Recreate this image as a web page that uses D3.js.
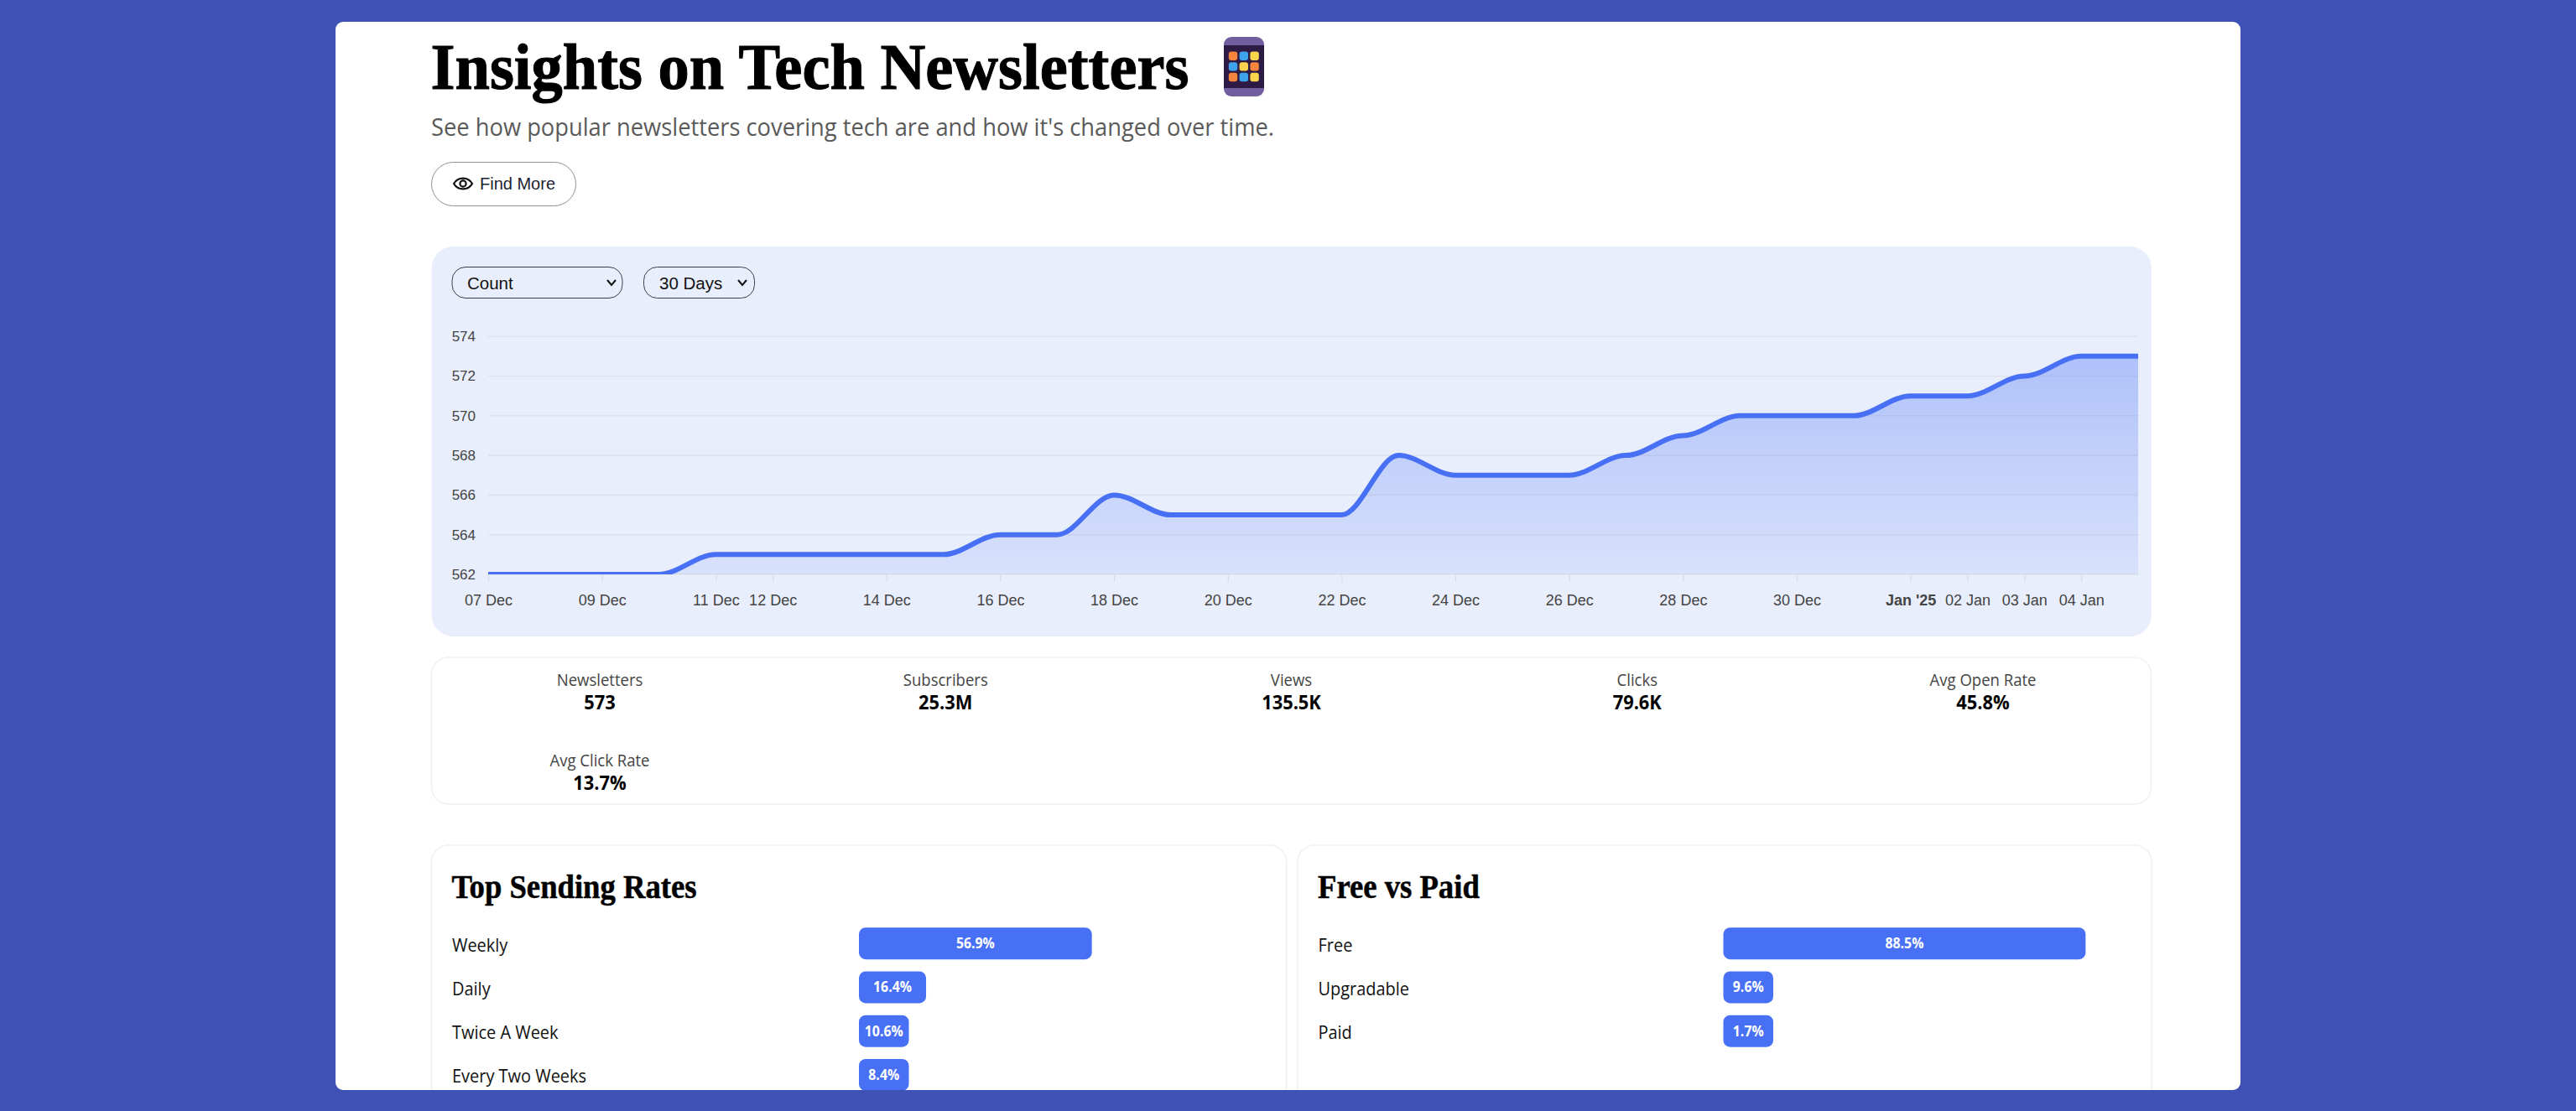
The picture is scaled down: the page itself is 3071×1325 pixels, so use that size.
<!DOCTYPE html>
<html>
<head>
<meta charset="utf-8">
<title>Insights on Tech Newsletters</title>
<script src="https://cdn.jsdelivr.net/npm/d3@7"></script>
<style>
  html, body { margin: 0; padding: 0; background: #3f51b5; overflow: hidden; }
  svg { display: block; }
  .serif { font-family: "Liberation Serif", serif; font-weight: 700; fill: #000; stroke: #000; }
  .ui { font-family: "Open Sans", "Noto Sans", sans-serif; }
  .arial { font-family: "Liberation Sans", Arial, sans-serif; }
</style>
</head>
<body>
<svg id="page" width="3071" height="1325"></svg>
<script>
// daily newsletter count, 07 Dec -> 05 Jan
const startDate = new Date(2024, 11, 7);
const counts = [562, 562, 562, 562, 563, 563, 563, 563, 563, 564, 564, 566, 565, 565, 565, 565,
  568, 567, 567, 567, 568, 569, 570, 570, 570, 571, 571, 572, 573, 573];
const yTicks = [562, 564, 566, 568, 570, 572, 574];
const xTickDays = [0, 2, 4, 5, 7, 9, 11, 13, 15, 17, 19, 21, 23, 25, 26, 27, 28];
const xTickLabels = ['07 Dec', '09 Dec', '11 Dec', '12 Dec', '14 Dec', '16 Dec', '18 Dec', '20 Dec', '22 Dec',
  '24 Dec', '26 Dec', '28 Dec', '30 Dec', "Jan '25", '02 Jan', '03 Jan', '04 Jan'];

const statLabels = ['Newsletters', 'Subscribers', 'Views', 'Clicks', 'Avg Open Rate', 'Avg Click Rate'];
const statValues = ['573', '25.3M', '135.5K', '79.6K', '45.8%', '13.7%'];

const sendingRates = ['Weekly', 'Daily', 'Twice A Week', 'Every Two Weeks'];
const sendingShares = [56.9, 16.4, 10.6, 8.4];
const tierNames = ['Free', 'Upgradable', 'Paid'];
const tierShares = [88.5, 9.6, 1.7];

const appTiles = ['#f5843c', '#3fa3ec', '#f9d54d', '#3fa3ec', '#f9d54d', '#f5843c', '#f5843c', '#3fa3ec', '#f9d54d'];

const blue = '#4870f5';
const svg = d3.select('#page');
const defs = svg.append('defs');

// squeeze a text horizontally, the installed fonts run wider than the original ones
function condense(factor) {
  return function () {
    d3.select(this)
      .attr('textLength', this.getComputedTextLength() * factor)
      .attr('lengthAdjust', 'spacingAndGlyphs');
  };
}

// cubic through every point with a flat tangent at each one
function curveFlatKnots(context) {
  return {
    areaStart() { this._line = 0; },
    areaEnd() { this._line = NaN; },
    lineStart() { this._point = 0; },
    lineEnd() {
      if (this._line || (this._line !== 0 && this._point === 1)) context.closePath();
      this._line = 1 - this._line;
    },
    point(px, py) {
      if (this._point === 0) {
        this._point = 1;
        if (this._line) context.lineTo(px, py); else context.moveTo(px, py);
      } else {
        this._point = 2;
        const dx = (px - this._x0) / 3;
        context.bezierCurveTo(this._x0 + dx, this._y0, px - dx, py, px, py);
      }
      this._x0 = px;
      this._y0 = py;
    }
  };
}

defs.append('clipPath').attr('id', 'sheet-clip')
  .append('rect').attr('x', 400).attr('y', 26).attr('width', 2271).attr('height', 1274).attr('rx', 9);

const sheet = svg.append('g').attr('clip-path', 'url(#sheet-clip)');
sheet.append('rect').attr('x', 400).attr('y', 26).attr('width', 2271).attr('height', 1274).attr('fill', '#fff');

// header
sheet.append('text').attr('class', 'serif').attr('x', 513.5).attr('y', 106)
  .attr('font-size', 79).attr('stroke-width', 1.1).attr('textLength', 904).attr('lengthAdjust', 'spacingAndGlyphs')
  .text('Insights on Tech Newsletters');

const phone = sheet.append('g');
phone.append('rect').attr('x', 1459).attr('y', 44).attr('width', 48).attr('height', 71).attr('rx', 9).attr('fill', '#6f5f9f');
phone.append('rect').attr('x', 1459).attr('y', 54).attr('width', 48).attr('height', 51).attr('fill', '#2d1b44');
const tileX = d3.scalePoint().domain([0, 1, 2]).range([1470, 1495.6]);
const tileY = d3.scalePoint().domain([0, 1, 2]).range([66.7, 92]);
phone.selectAll('rect.tile').data(appTiles).join('rect').attr('class', 'tile')
  .attr('x', (d, i) => tileX(i % 3) - 5.2)
  .attr('y', (d, i) => tileY(Math.floor(i / 3)) - 5.2)
  .attr('width', 10.4).attr('height', 10.4).attr('rx', 3)
  .attr('fill', d => d);

sheet.append('text').attr('class', 'ui').attr('x', 514).attr('y', 162)
  .attr('font-size', 30).attr('fill', '#5a5a5a')
  .attr('textLength', 1005).attr('lengthAdjust', 'spacingAndGlyphs')
  .text("See how popular newsletters covering tech are and how it's changed over time.");

// find more button
sheet.append('rect').attr('x', 514.5).attr('y', 193.5).attr('width', 172).attr('height', 52).attr('rx', 26)
  .attr('fill', '#fff').attr('stroke', '#8e8e8e').attr('stroke-width', 1);
const eye = sheet.append('g').attr('transform', 'translate(552,219)').attr('fill', 'none').attr('stroke', '#111').attr('stroke-width', 2.2);
eye.append('path').attr('d', 'M-11,0 C-6,-8.5 6,-8.5 11,0 C6,8.5 -6,8.5 -11,0 Z');
eye.append('circle').attr('r', 3.6);
sheet.append('text').attr('class', 'arial').attr('x', 572).attr('y', 226)
  .attr('font-size', 20).attr('fill', '#1c2230').text('Find More');

// chart panel
sheet.append('rect').attr('x', 514.5).attr('y', 294).attr('width', 2050.5).attr('height', 465).attr('rx', 26).attr('fill', '#e8eefc');

function drawSelect(px, width, label, textX, arrowX) {
  sheet.append('rect').attr('x', px + 0.5).attr('y', 318.5).attr('width', width).attr('height', 37).attr('rx', 16)
    .attr('fill', '#e8eefc').attr('stroke', '#3a3f4a').attr('stroke-width', 1);
  sheet.append('text').attr('class', 'arial').attr('x', textX).attr('y', 344.5)
    .attr('font-size', 20.5).attr('fill', '#111').text(label);
  sheet.append('path').attr('d', `M${arrowX - 5},334 L${arrowX},340 L${arrowX + 5},334`)
    .attr('fill', 'none').attr('stroke', '#111').attr('stroke-width', 2);
}
drawSelect(538.5, 203, 'Count', 557, 729);
drawSelect(767, 132, '30 Days', 786, 885);

// count chart
const x = d3.scaleTime()
  .domain([startDate, d3.timeDay.offset(startDate, counts.length - 1)])
  .range([582, 2549]);
const y = d3.scaleLinear().domain([562, 574]).range([685, 401.2]);
const series = counts.map((v, i) => ({ date: d3.timeDay.offset(startDate, i), value: v }));

defs.append('clipPath').attr('id', 'plot-clip')
  .append('rect').attr('x', 582).attr('y', 396).attr('width', 1967).attr('height', 289);
const grad = defs.append('linearGradient').attr('id', 'area-fill')
  .attr('x1', 0).attr('x2', 0).attr('y1', 0).attr('y2', 1);
grad.append('stop').attr('offset', '0%').attr('stop-color', blue).attr('stop-opacity', 0.36);
grad.append('stop').attr('offset', '100%').attr('stop-color', blue).attr('stop-opacity', 0.1);

const grid = sheet.append('g');
grid.selectAll('line').data(yTicks).join('line')
  .attr('x1', 582).attr('x2', 2549)
  .attr('y1', d => y(d)).attr('y2', d => y(d))
  .attr('stroke', '#dfe2ea').attr('stroke-width', 1.6);

const xAxis = d3.axisBottom(x)
  .tickValues(xTickDays.map(d => d3.timeDay.offset(startDate, d)))
  .tickFormat((d, i) => xTickLabels[i])
  .tickSize(9).tickPadding(15);
const xG = sheet.append('g').attr('class', 'arial').attr('transform', 'translate(0,685)').call(xAxis);
xG.select('.domain').remove();
xG.selectAll('line').attr('stroke', '#d9dce6').attr('stroke-width', 1.2);
xG.selectAll('text').attr('font-size', 18).attr('font-family', '"Liberation Sans", Arial, sans-serif')
  .attr('fill', '#444').attr('font-weight', (d, i) => xTickLabels[i] === "Jan '25" ? 700 : 400);

const yAxis = d3.axisLeft(y).tickValues(yTicks).tickSize(0).tickPadding(15);
const yG = sheet.append('g').attr('transform', 'translate(582,0)').call(yAxis);
yG.select('.domain').remove();
yG.selectAll('text').attr('font-size', 17).attr('font-family', '"Liberation Sans", Arial, sans-serif').attr('fill', '#444');

const plot = sheet.append('g').attr('clip-path', 'url(#plot-clip)');
plot.append('path').datum(series).attr('fill', 'url(#area-fill)')
  .attr('d', d3.area().curve(curveFlatKnots).x(d => x(d.date)).y0(y(562)).y1(d => y(d.value)));
plot.append('path').datum(series).attr('fill', 'none').attr('stroke', blue).attr('stroke-width', 6)
  .attr('d', d3.line().curve(curveFlatKnots).x(d => x(d.date)).y(d => y(d.value)));

// stats box
sheet.append('rect').attr('x', 514.5).attr('y', 784).attr('width', 2050).attr('height', 175).attr('rx', 20)
  .attr('fill', '#fff').attr('stroke', '#f1f1f1').attr('stroke-width', 1.5);
const statX = d3.scalePoint().domain(d3.range(5)).range([715, 2364]);
const stats = sheet.selectAll('g.stat').data(statLabels).join('g').attr('class', 'stat')
  .attr('transform', (d, i) => `translate(${statX(i % 5)},${i < 5 ? 0 : 96})`);
stats.append('text').attr('class', 'ui').attr('text-anchor', 'middle').attr('y', 818)
  .attr('font-size', 19.5).attr('fill', '#444').text(d => d).each(condense(0.95));
stats.append('text').attr('class', 'ui').attr('text-anchor', 'middle').attr('y', 845.5)
  .attr('font-size', 23).attr('font-weight', 700).attr('fill', '#000').text((d, i) => statValues[i]).each(condense(0.95));

// bar cards
const barWidth = d3.scaleLinear().domain([0, 100]).range([0, 488]);
const rowY = d3.scaleBand().domain(d3.range(4)).range([1098.5, 1307.5]);

function drawCard(left, width, title, names, shares, barLeft) {
  sheet.append('rect').attr('x', left + 0.5).attr('y', 1008).attr('width', width).attr('height', 340).attr('rx', 20)
    .attr('fill', '#fff').attr('stroke', '#f1f1f1').attr('stroke-width', 1.5);
  sheet.append('text').attr('class', 'serif').attr('x', left + 24.5).attr('y', 1070.5)
    .attr('font-size', 39).attr('stroke-width', 0.5).text(title).each(condense(0.94));
  const rows = sheet.selectAll(null).data(names).join('g');
  rows.append('text').attr('class', 'ui').attr('x', left + 25).attr('y', (d, i) => rowY(i) + rowY.bandwidth() / 2 + 10)
    .attr('font-size', 21).attr('fill', '#111').text(d => d).each(condense(0.95));
  rows.append('rect').attr('x', barLeft)
    .attr('y', (d, i) => rowY(i) + rowY.bandwidth() / 2 - 18.5).attr('height', 38).attr('rx', 8)
    .attr('width', (d, i) => Math.max(barWidth(shares[i]), 59.5)).attr('fill', blue);
  rows.append('text').attr('class', 'ui').attr('text-anchor', 'middle')
    .attr('x', (d, i) => barLeft + Math.max(barWidth(shares[i]), 59.5) / 2)
    .attr('y', (d, i) => rowY(i) + rowY.bandwidth() / 2 + 6.5)
    .attr('font-size', 17).attr('font-weight', 700).attr('fill', '#fff')
    .text((d, i) => shares[i] + '%').each(condense(0.93));
}
drawCard(514, 1019, 'Top Sending Rates', sendingRates, sendingShares, 1024);
drawCard(1546.5, 1018, 'Free vs Paid', tierNames, tierShares, 2054.5);
</script>
</body>
</html>
